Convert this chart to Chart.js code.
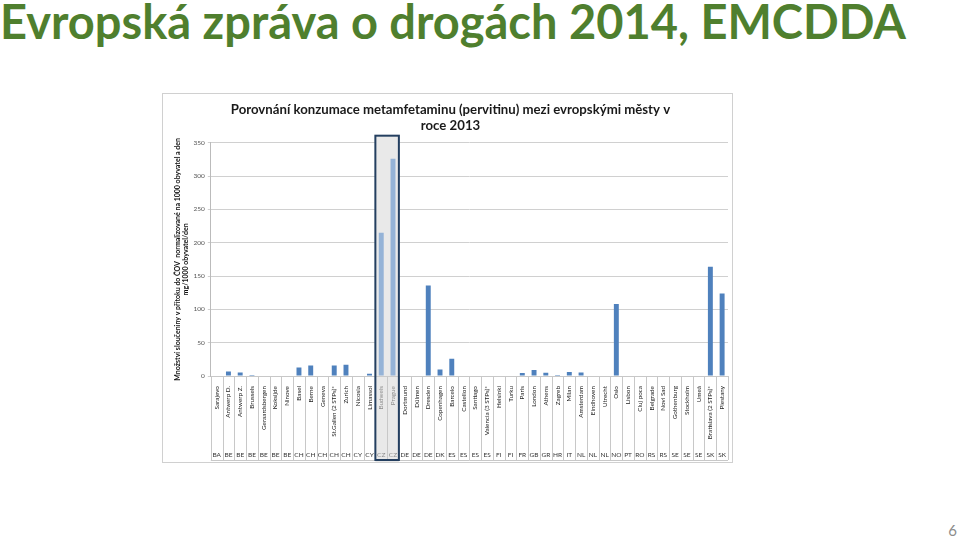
<!DOCTYPE html>
<html>
<head>
<meta charset="utf-8">
<script src="https://cdn.jsdelivr.net/npm/chart.js@4"></script>
<style>
    html, body { margin: 0; padding: 0; background: #fff; }
    body { width: 960px; height: 541px; position: relative; overflow: hidden; font-family: Lato, "Open Sans", sans-serif; }
    #slide-title {
        position: absolute; left: 0; top: -7px; white-space: nowrap;
        font-size: 47px; font-weight: bold; color: #4f7f2e; line-height: 1.2;
    }
    #chart-box {
        position: absolute; left: 162px; top: 93px; width: 571px; height: 370px;
        border: 1px solid #d0d0d0; box-sizing: border-box;
    }
    #page-num { position: absolute; right: 3px; bottom: 2px; font-size: 15px; color: #8c8c8c; }
</style>
</head>
<body>
<div id="slide-title">Evropská zpráva o drogách 2014, EMCDDA</div>
<div id="chart-box"><canvas id="chart"></canvas></div>
<div id="page-num">6</div>

<script>
// Města (popisky osy X)
const cities = [
    "Sarajevo", "Antwerp D.", "Antwerp Z.", "Brussels", "Geraardsbergen", "Koksijde", "Ninove",
    "Basel", "Berne", "Geneva", "St.Gallen (2 STPs)*", "Zurich", "Nicosia", "Limassol",
    "Budweis", "Prague", "Dortmund", "Dülmen", "Dresden", "Copenhagen", "Barcelo",
    "Castellon", "Santiago", "Valencia (3 STPs)*", "Helsinki", "Turku", "Paris", "London",
    "Athens", "Zagreb", "Milan", "Amsterdam", "Eindhoven", "Utrecht", "Oslo", "Lisbon",
    "Cluj poca", "Belgrade", "Novi Sad", "Gothenburg", "Stockholm", "Umeå",
    "Bratislava (2 STPs)*", "Piestany"
];

// Kódy zemí (druhý řádek popisků)
const countries = [
    "BA", "BE", "BE", "BE", "BE", "BE", "BE",
    "CH", "CH", "CH", "CH", "CH", "CY", "CY",
    "CZ", "CZ", "DE", "DE", "DE", "DK", "ES",
    "ES", "ES", "ES", "FI", "FI", "FR", "GB",
    "GR", "HR", "IT", "NL", "NL", "NL", "NO", "PT",
    "RO", "RS", "RS", "SE", "SE", "SE",
    "SK", "SK"
];

// mg/1000 obyvatel/den
const values = [
    0, 7, 5.5, 1.5, 0, 0, 0,
    13, 16, 0, 16, 17, 1, 3.5,
    215, 326, 0, 0, 136, 10, 26,
    0, 0, 1, 0, 0, 4.5, 9,
    5, 1.5, 6, 5.5, 0, 0, 108, 0,
    0, 0, 0, 0, 0, 0,
    164, 124
];

// Zvýrazněná města (ČR)
const highlighted = ["Budweis", "Prague"];

const yTicks = [0, 50, 100, 150, 200, 250, 300, 350];

const chartTitle = ["Porovnání konzumace metamfetaminu (pervitinu) mezi evropskými městy v", "roce 2013"];
const yTitle = ["Množství sloučeniny v přítoku do ČOV  normalizované na 1000 obyvatel a den", "mg/1000 obyvatel/den"];

const barColor = "#4f81bd";
const barColorLight = "#95b3d7";

const isHighlighted = (i) => highlighted.includes(cities[i]);

// pozice rámečku podle osy X
function boxRange(chart) {
    const x = chart.scales.x;
    const half = (x.getPixelForValue(1) - x.getPixelForValue(0)) / 2;
    const i0 = cities.indexOf(highlighted[0]);
    const i1 = cities.indexOf(highlighted[highlighted.length - 1]);
    return { left: x.getPixelForValue(i0) - half, right: x.getPixelForValue(i1) + half };
}

// Rámeček kolem českých měst + svislé oddělovače popisků
const tablePlugin = {
    id: "tableLines",
    beforeDraw(chart) {
        // pozadí pod popisky (kreslí se před osami, aby popisky zůstaly vidět)
        const r = boxRange(chart);
        const ctx = chart.ctx;
        ctx.save();
        ctx.fillStyle = "#e9e9e9";
        ctx.fillRect(r.left, chart.chartArea.bottom, r.right - r.left, chart.height - chart.chartArea.bottom);
        ctx.restore();
    },
    beforeDatasetsDraw(chart) {
        // pozadí v ploše grafu překryje mřížku
        const r = boxRange(chart);
        const ctx = chart.ctx;
        ctx.save();
        ctx.fillStyle = "#e9e9e9";
        ctx.fillRect(r.left, chart.chartArea.top - 7, r.right - r.left, chart.chartArea.bottom - chart.chartArea.top + 7);
        ctx.restore();
    },
    afterDraw(chart) {
        const x = chart.scales.x;
        const area = chart.chartArea;
        const half = (x.getPixelForValue(1) - x.getPixelForValue(0)) / 2;
        const bottom = chart.height - 2;
        const ctx = chart.ctx;
        ctx.save();
        ctx.strokeStyle = "#c8c8c8";
        ctx.lineWidth = 1;
        for (let i = 0; i <= cities.length; i++) {
            const px = Math.round(x.getPixelForValue(i) - half) + 0.5;
            ctx.beginPath();
            ctx.moveTo(px, area.bottom);
            ctx.lineTo(px, bottom);
            ctx.stroke();
        }
        ctx.beginPath();
        ctx.moveTo(area.left, bottom + 0.5);
        ctx.lineTo(area.right, bottom + 0.5);
        ctx.stroke();

        const r = boxRange(chart);
        ctx.strokeStyle = "#243f60";
        ctx.lineWidth = 2;
        ctx.strokeRect(r.left, area.top - 7, r.right - r.left, bottom - area.top + 7);
        ctx.restore();
    }
};

new Chart(document.getElementById("chart"), {
    type: "bar",
    data: {
        labels: cities,
        datasets: [{
            data: values,
            backgroundColor: values.map((v, i) => isHighlighted(i) ? barColorLight : barColor),
            barPercentage: 0.42,
            categoryPercentage: 1,
        }],
    },
    options: {
        responsive: true,
        maintainAspectRatio: false,
        animation: false,
        layout: { padding: { left: 10, right: 4, top: 2, bottom: 1 } },
        plugins: {
            legend: { display: false },
            tooltip: { enabled: false },
            title: {
                display: true,
                text: chartTitle,
                color: "#1a1a1a",
                font: { family: "Lato", size: 13.2, weight: "bold", lineHeight: 1.2 },
                padding: { top: 6, bottom: 9 },
            },
        },
        scales: {
            x: {
                offset: true,
                grid: { display: false },
                border: { color: "#c8c8c8" },
                ticks: {
                    autoSkip: false,
                    minRotation: 90,
                    maxRotation: 90,
                    padding: 2,
                    font: { family: "Lato", size: 6.3 },
                    color: (ctx) => isHighlighted(ctx.index) ? "#8c8c8c" : "#222",
                },
            },
            x2: {
                type: "category",
                labels: countries,
                position: "bottom",
                offset: true,
                grid: { display: false },
                border: { display: false },
                ticks: {
                    autoSkip: false,
                    maxRotation: 0,
                    minRotation: 0,
                    padding: 2,
                    font: { family: "Lato", size: 6.5 },
                    color: (ctx) => isHighlighted(ctx.index) ? "#8c8c8c" : "#333",
                },
            },
            y: {
                min: 0,
                max: 350,
                afterBuildTicks: (axis) => { axis.ticks = yTicks.map((v) => ({ value: v })); },
                grid: { color: "#d0d0d0", drawTicks: true, tickLength: 3 },
                border: { color: "#bbbbbb" },
                ticks: {
                    padding: 3,
                    font: { family: "Lato", size: 6.5 },
                    color: "#555",
                },
                title: {
                    display: true,
                    text: yTitle,
                    color: "#111",
                    font: { family: "Lato", size: 7, weight: "bold", lineHeight: 1.25 },
                    padding: { top: 0, bottom: 0 },
                },
            },
        },
    },
    plugins: [tablePlugin],
});
</script>
</body>
</html>
